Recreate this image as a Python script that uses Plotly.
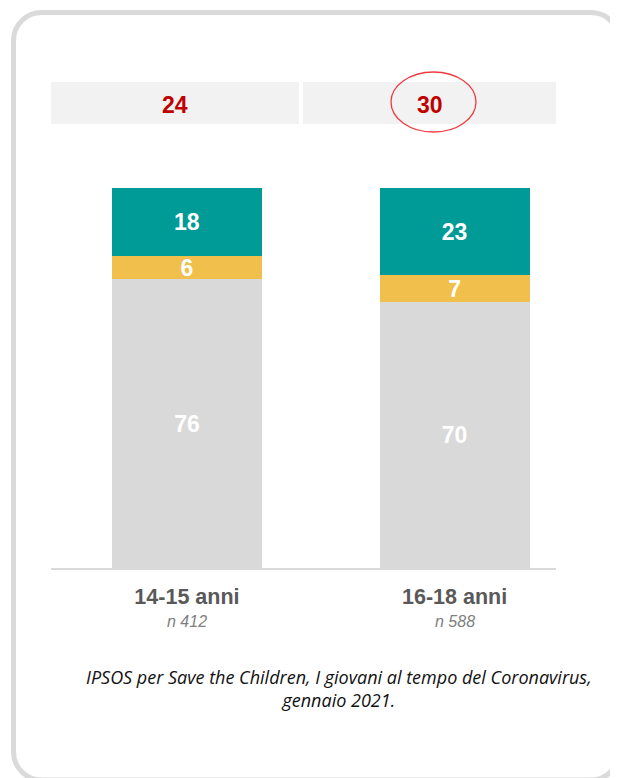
import plotly.graph_objects as go

# ---- data ----
categories = ["14-15 anni", "16-18 anni"]
sample_sizes = ["n 412", "n 588"]
grey_vals = [76, 70]
yellow_vals = [6, 7]
teal_vals = [18, 23]
totals = [24, 30]
caption = ("IPSOS per Save the Children, I giovani al tempo del Coronavirus,<br>"
           "gennaio 2021.")

# page body adds an 8px margin, so positions below are screen pixels minus OFF
OFF = 8
W, H = 610, 770
L, R, T, B = 43, 62, 180, 210
PW, PH = W - L - R, H - T - B


def px(x):
    return (x - OFF - L) / PW


def py(y):
    return (H - B - (y - OFF)) / PH


FONT = "Arial, Liberation Sans, sans-serif"
xs = [0, 1]

fig = go.Figure()
for vals, col in [(grey_vals, "#D9D9D9"), (yellow_vals, "#F0BF4C"), (teal_vals, "#009A97")]:
    fig.add_trace(go.Bar(
        x=xs, y=vals, marker=dict(color=col, line=dict(width=0)),
        width=0.561, text=[str(v) for v in vals], textposition="inside",
        insidetextanchor="middle", constraintext="none", textangle=0,
        textfont=dict(family=FONT, size=23, color="white", weight="bold"),
        hoverinfo="skip", showlegend=False))

shapes = []
# rounded border
x0, y0, x1, y1, r = 13.5, 12.5, 619, 780, 28
k = 0.5523 * r


def P(x, y):
    return f"{px(x):.5f},{py(y):.5f}"


path = (f"M {P(x0 + r, y0)} L {P(x1 - r, y0)} "
        f"C {P(x1 - r + k, y0)} {P(x1, y0 + r - k)} {P(x1, y0 + r)} "
        f"L {P(x1, y1 - r)} "
        f"C {P(x1, y1 - r + k)} {P(x1 - r + k, y1)} {P(x1 - r, y1)} "
        f"L {P(x0 + r, y1)} "
        f"C {P(x0 + r - k, y1)} {P(x0, y1 - r + k)} {P(x0, y1 - r)} "
        f"L {P(x0, y0 + r)} "
        f"C {P(x0, y0 + r - k)} {P(x0 + r - k, y0)} {P(x0 + r, y0)} Z")
shapes.append(dict(type="path", xref="paper", yref="paper", path=path,
                   line=dict(color="#DADADA", width=5), layer="below"))
# total boxes
boxes = [(51, 299), (303, 556)]
for bx0, bx1 in boxes:
    shapes.append(dict(type="rect", xref="paper", yref="paper",
                       x0=px(bx0), x1=px(bx1), y0=py(124), y1=py(82),
                       fillcolor="#F2F2F2", line=dict(width=0), layer="below"))
# red ellipse around the highest total
shapes.append(dict(type="circle", xref="paper", yref="paper",
                   x0=px(391), x1=px(476), y0=py(132), y1=py(72),
                   line=dict(color="#F0393F", width=1.3)))

annotations = []
for (bx0, bx1), t in zip(boxes, totals):
    annotations.append(dict(x=px((bx0 + bx1) / 2), y=py(105), xref="paper", yref="paper",
                            xanchor="center", yanchor="middle",
                            text=f"<b>{t}</b>", showarrow=False,
                            font=dict(family=FONT, size=23, color="#C00000")))
for xv, n in zip(xs, sample_sizes):
    annotations.append(dict(x=xv, y=py(621), xref="x", yref="paper",
                            xanchor="center", yanchor="middle",
                            text=f"<i>{n}</i>", showarrow=False,
                            font=dict(family=FONT, size=16, color="#7F7F7F")))
annotations.append(dict(x=px(339), y=py(688), xref="paper", yref="paper",
                        xanchor="center", yanchor="middle",
                        text=f"<i>{caption}</i>", showarrow=False, align="center",
                        font=dict(family="Open Sans, sans-serif", size=18, color="#111111")))

fig.update_layout(
    width=W, height=H, margin=dict(l=L, r=R, t=T, b=B),
    paper_bgcolor="white", plot_bgcolor="white", barmode="stack",
    shapes=shapes, annotations=annotations,
    xaxis=dict(range=[-0.508, 1.379], tickvals=xs,
               ticktext=[f"<b>{c}</b>" for c in categories],
               tickfont=dict(family=FONT, size=21.5, color="#595959"),
               showline=True, linecolor="#D9D9D9", linewidth=2,
               showgrid=False, zeroline=False, ticks="", ticklabelstandoff=8),
    yaxis=dict(range=[0, 100], visible=False, showgrid=False, zeroline=False),
)

fig.write_html("out.html")
